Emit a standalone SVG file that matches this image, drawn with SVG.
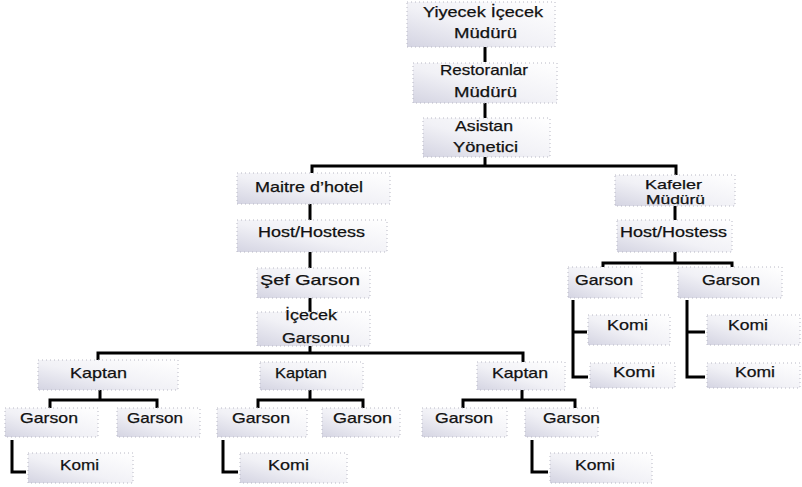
<svg xmlns="http://www.w3.org/2000/svg" width="802" height="487" viewBox="0 0 802 487">
<defs>
<linearGradient id="g" x1="0" y1="1" x2="1" y2="0">
<stop offset="0" stop-color="#d4d4e2"/>
<stop offset="0.45" stop-color="#f1f1f6"/>
<stop offset="1" stop-color="#ffffff"/>
</linearGradient>
</defs>
<style>
.b{fill:url(#g);stroke:#b8b8c4;stroke-width:1;stroke-dasharray:1 3}
.t{font-family:"Liberation Sans",Arial,sans-serif;font-size:15px;fill:#111;stroke:#111;stroke-width:0.25}
.s{font-size:13px}
.c{fill:none;stroke:#000;stroke-width:3;stroke-linejoin:miter}
</style>
<rect width="802" height="487" fill="#fff"/>
<g id="connectors">
<path class="c" d="M485 47V62M485 103V118M485 157V166"/>
<path class="c" d="M312 173V166H676V175"/>
<path class="c" d="M310 204V220M310 252V268M310 298V312M310 346V353"/>
<path class="c" d="M98 360V353H523V362"/>
<path class="c" d="M100 390V400M50 408V400H157V408"/>
<path class="c" d="M310 390V400M258 408V400H363V408"/>
<path class="c" d="M522 390V400M463 408V400H575V408"/>
<path class="c" d="M12 440V472H26M223 440V472H238M532 440V472H548"/>
<path class="c" d="M675 206V220M675 252V263M603 268V263H732V268"/>
<path class="c" d="M573 300V377H588M573 332H587M687 300V377H705M687 332H705"/>
</g>
<g id="n1"><rect class="b" x="407" y="2" width="148" height="45"/><text class="t" x="423" y="17" textLength="120" lengthAdjust="spacingAndGlyphs">Yiyecek İçecek</text><text class="t" x="454" y="38" textLength="63" lengthAdjust="spacingAndGlyphs">Müdürü</text></g>
<g id="n2"><rect class="b" x="413" y="63" width="144" height="40"/><text class="t" x="440" y="75" textLength="88" lengthAdjust="spacingAndGlyphs">Restoranlar</text><text class="t" x="454" y="97" textLength="63" lengthAdjust="spacingAndGlyphs">Müdürü</text></g>
<g id="n3"><rect class="b" x="423" y="118" width="127" height="39"/><text class="t" x="455" y="131" textLength="58" lengthAdjust="spacingAndGlyphs">Asistan</text><text class="t" x="453" y="152" textLength="65" lengthAdjust="spacingAndGlyphs">Yönetici</text></g>
<g id="n4"><rect class="b" x="237" y="173" width="153" height="31"/><text class="t" x="255" y="192" textLength="108" lengthAdjust="spacingAndGlyphs">Maitre d’hotel</text></g>
<g id="n5"><rect class="b" x="615" y="175" width="120" height="31"/><text class="t s" x="645" y="189" textLength="57" lengthAdjust="spacingAndGlyphs">Kafeler</text><text class="t s" x="646" y="204" textLength="59" lengthAdjust="spacingAndGlyphs">Müdürü</text></g>
<g id="n6"><rect class="b" x="237" y="220" width="150" height="32"/><text class="t" x="258" y="237" textLength="107" lengthAdjust="spacingAndGlyphs">Host/Hostess</text></g>
<g id="n7"><rect class="b" x="617" y="220" width="115" height="32"/><text class="t" x="620" y="237" textLength="107" lengthAdjust="spacingAndGlyphs">Host/Hostess</text></g>
<g id="n8"><rect class="b" x="257" y="268" width="113" height="30"/><text class="t" x="260" y="285" textLength="100" lengthAdjust="spacingAndGlyphs">Şef Garson</text></g>
<g id="n9"><rect class="b" x="257" y="312" width="113" height="34"/><text class="t" x="285" y="320" textLength="52" lengthAdjust="spacingAndGlyphs">İçecek</text><text class="t" x="282" y="343" textLength="68" lengthAdjust="spacingAndGlyphs">Garsonu</text></g>
<g id="n10"><rect class="b" x="38" y="360" width="140" height="30"/><text class="t" x="70" y="378" textLength="57" lengthAdjust="spacingAndGlyphs">Kaptan</text></g>
<g id="n11"><rect class="b" x="260" y="362" width="103" height="28"/><text class="t" x="275" y="378" textLength="52" lengthAdjust="spacingAndGlyphs">Kaptan</text></g>
<g id="n12"><rect class="b" x="477" y="362" width="88" height="28"/><text class="t" x="492" y="378" textLength="56" lengthAdjust="spacingAndGlyphs">Kaptan</text></g>
<g id="n13"><rect class="b" x="5" y="408" width="93" height="29"/><text class="t" x="20" y="423" textLength="58" lengthAdjust="spacingAndGlyphs">Garson</text></g>
<g id="n14"><rect class="b" x="117" y="408" width="83" height="29"/><text class="t" x="127" y="423" textLength="56" lengthAdjust="spacingAndGlyphs">Garson</text></g>
<g id="n15"><rect class="b" x="217" y="408" width="90" height="29"/><text class="t" x="232" y="423" textLength="58" lengthAdjust="spacingAndGlyphs">Garson</text></g>
<g id="n16"><rect class="b" x="322" y="408" width="78" height="29"/><text class="t" x="333" y="423" textLength="59" lengthAdjust="spacingAndGlyphs">Garson</text></g>
<g id="n17"><rect class="b" x="422" y="408" width="85" height="29"/><text class="t" x="435" y="423" textLength="58" lengthAdjust="spacingAndGlyphs">Garson</text></g>
<g id="n18"><rect class="b" x="525" y="408" width="73" height="29"/><text class="t" x="543" y="423" textLength="57" lengthAdjust="spacingAndGlyphs">Garson</text></g>
<g id="n19"><rect class="b" x="28" y="453" width="105" height="30"/><text class="t" x="60" y="470" textLength="39" lengthAdjust="spacingAndGlyphs">Komi</text></g>
<g id="n20"><rect class="b" x="240" y="453" width="107" height="30"/><text class="t" x="268" y="470" textLength="41" lengthAdjust="spacingAndGlyphs">Komi</text></g>
<g id="n21"><rect class="b" x="550" y="453" width="102" height="30"/><text class="t" x="575" y="470" textLength="40" lengthAdjust="spacingAndGlyphs">Komi</text></g>
<g id="n22"><rect class="b" x="568" y="267" width="74" height="31"/><text class="t" x="575" y="285" textLength="58" lengthAdjust="spacingAndGlyphs">Garson</text></g>
<g id="n23"><rect class="b" x="678" y="267" width="104" height="31"/><text class="t" x="702" y="285" textLength="58" lengthAdjust="spacingAndGlyphs">Garson</text></g>
<g id="n24"><rect class="b" x="588" y="315" width="82" height="30"/><text class="t" x="607" y="330" textLength="41" lengthAdjust="spacingAndGlyphs">Komi</text></g>
<g id="n25"><rect class="b" x="707" y="315" width="93" height="30"/><text class="t" x="728" y="330" textLength="40" lengthAdjust="spacingAndGlyphs">Komi</text></g>
<g id="n26"><rect class="b" x="590" y="363" width="85" height="25"/><text class="t" x="613" y="377" textLength="42" lengthAdjust="spacingAndGlyphs">Komi</text></g>
<g id="n27"><rect class="b" x="707" y="363" width="93" height="25"/><text class="t" x="735" y="377" textLength="40" lengthAdjust="spacingAndGlyphs">Komi</text></g>
</svg>
